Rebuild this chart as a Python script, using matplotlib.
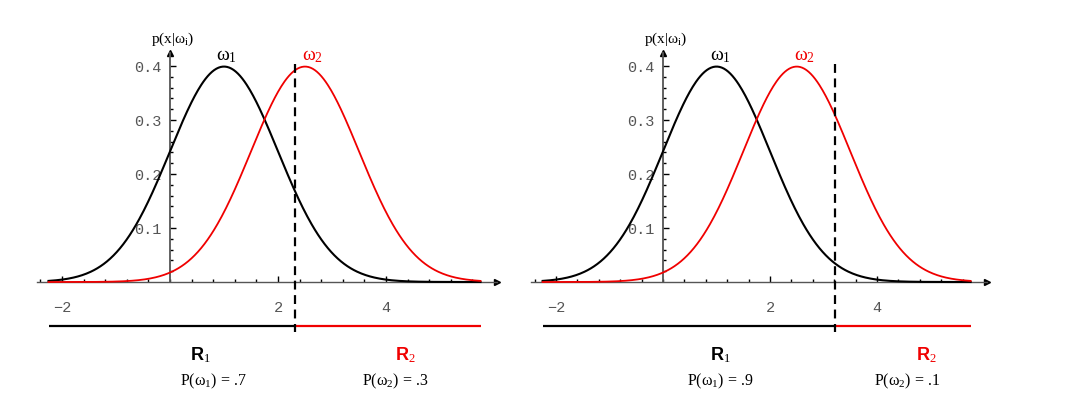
import numpy as np
import matplotlib
matplotlib.use("Agg")
import matplotlib.pyplot as plt

# ---------------- data ----------------
means = [1.0, 2.5]          # class-conditional means (omega1, omega2)
sigma = 1.0                 # common standard deviation
priors_left = [0.7, 0.3]
priors_right = [0.9, 0.1]
x_range = [-2.25, 5.75]     # extent of the curves
x_major = [-2, 2, 4]
x_major_labels = ["\u22122", "2", "4"]
y_major = [0.1, 0.2, 0.3, 0.4]
y_major_labels = ["0.4", "0.3", "0.2", "0.1"][::-1]
prior_texts_left = ["P($\\omega_1$) = .7", "P($\\omega_2$) = .3"]
prior_texts_right = ["P($\\omega_1$) = .9", "P($\\omega_2$) = .1"]

RED = "#f00000"
GRAY = "#555555"

plt.rcParams["mathtext.fontset"] = "custom"
plt.rcParams["mathtext.rm"] = "Liberation Serif"
plt.rcParams["mathtext.it"] = "Liberation Serif"
plt.rcParams["mathtext.bf"] = "Liberation Sans:bold"

W, H = 1068, 402
fig = plt.figure(figsize=(W / 100, H / 100), dpi=100)

XLIM = (-3.0, 6.2)
YLIM = (-0.22, 0.47)
BASE_PX = 283.0
YSCALE = 540.0


def make_axes(origin_px, unit_px):
    left = origin_px + XLIM[0] * unit_px
    right = origin_px + XLIM[1] * unit_px
    bottom = BASE_PX - YLIM[0] * YSCALE
    top = BASE_PX - YLIM[1] * YSCALE
    ax = fig.add_axes([left / W, (H - bottom) / H, (right - left) / W, (bottom - top) / H])
    ax.set_xlim(*XLIM)
    ax.set_ylim(*YLIM)
    ax.patch.set_alpha(0)
    return ax


def gauss(x, m, s):
    return np.exp(-0.5 * ((x - m) / s) ** 2) / (s * np.sqrt(2 * np.pi))


def panel(ax, priors, prior_texts, label_pos):
    # axes via spines through the origin
    for s in ["top", "right"]:
        ax.spines[s].set_visible(False)
    ax.spines["left"].set_position(("data", 0))
    ax.spines["bottom"].set_position(("data", 0))
    ax.spines["left"].set_bounds(0, 0.424)
    ax.spines["bottom"].set_bounds(-2.47, 6.06)
    ax.spines["left"].set_color(GRAY)
    ax.spines["bottom"].set_color(GRAY)
    ax.spines["left"].set_linewidth(1.3)
    ax.spines["bottom"].set_linewidth(1.0)
    # arrowheads
    ax.plot([6.06], [0], marker=">", color="black", markersize=5, clip_on=False,
            transform=ax.transData)
    ax.plot([0], [0.424], marker="^", color="black", markersize=5, clip_on=False)

    ax.set_xticks(x_major)
    ax.set_xticklabels(x_major_labels)
    ax.set_xticks(np.arange(-2.4, 5.61, 0.4), minor=True)
    ax.set_yticks(y_major)
    ax.set_yticklabels(y_major_labels)
    ax.set_yticks(np.arange(0.02, 0.401, 0.02), minor=True)
    ax.tick_params(axis="x", which="major", direction="in", length=4, width=1,
                   color="black", pad=13, labelsize=11, labelcolor=GRAY)
    ax.tick_params(axis="x", which="minor", direction="in", length=2.5, width=1,
                   color="black")
    ax.tick_params(axis="y", which="major", direction="in", length=4, width=1,
                   color="black", pad=6, labelsize=11, labelcolor=GRAY)
    ax.tick_params(axis="y", which="minor", direction="in", length=2.5, width=1,
                   color="black")
    for lab in ax.get_xticklabels() + ax.get_yticklabels():
        lab.set_fontfamily("Liberation Mono")
    ax.set_zorder(1)

    x = np.linspace(x_range[0], x_range[1], 400)
    ax.plot(x, gauss(x, means[0], sigma), color="black", lw=1.5, zorder=3)
    ax.plot(x, gauss(x, means[1], sigma), color=RED, lw=1.3, zorder=3)

    # decision boundary
    xb = (means[0] + means[1]) / 2 + sigma ** 2 * np.log(priors[0] / priors[1]) / (means[1] - means[0])
    ax.plot([xb, xb], [0.403, -0.092], color="black", lw=1.6,
            linestyle=(0, (4, 2.5)), clip_on=False, zorder=4)

    # region bars
    yr = -0.0815
    ax.plot([x_range[0], xb], [yr, yr], color="black", lw=1.6, clip_on=False,
            solid_capstyle="butt")
    ax.plot([xb, x_range[1]], [yr, yr], color=RED, lw=1.6, clip_on=False,
            solid_capstyle="butt")

    # labels
    ax.text(0.04, 0.452, "p(x|$\\omega_{\\mathregular{i}}$)", ha="center", va="center",
            fontsize=11, family="Liberation Serif")
    ax.text(label_pos["w1"], 0.422, "$\\omega_1$", ha="center", va="center",
            fontsize=14, color="black")
    ax.text(label_pos["w2"], 0.422, "$\\omega_2$", ha="center", va="center",
            fontsize=14, color=RED)
    ax.text(label_pos["R1"], -0.133, "$\\mathbf{R}_1$", ha="center", va="center",
            fontsize=13, color="black")
    ax.text(label_pos["R2"], -0.133, "$\\mathbf{R}_2$", ha="center", va="center",
            fontsize=13, color=RED)
    ax.text(label_pos["P1"], -0.183, prior_texts[0], ha="center", va="center",
            fontsize=11.5, family="Liberation Serif")
    ax.text(label_pos["P2"], -0.183, prior_texts[1], ha="center", va="center",
            fontsize=11.5, family="Liberation Serif")


axL = make_axes(170.0, 54.0)
panel(axL, priors_left, prior_texts_left,
      {"w1": 1.04, "w2": 2.63, "R1": 0.56, "R2": 4.35, "P1": 0.8, "P2": 4.17})

axR = make_axes(663.0, 53.5)
panel(axR, priors_right, prior_texts_right,
      {"w1": 1.07, "w2": 2.64, "R1": 1.07, "R2": 4.92, "P1": 1.07, "P2": 4.56})

fig.savefig("out.png", dpi=100)
